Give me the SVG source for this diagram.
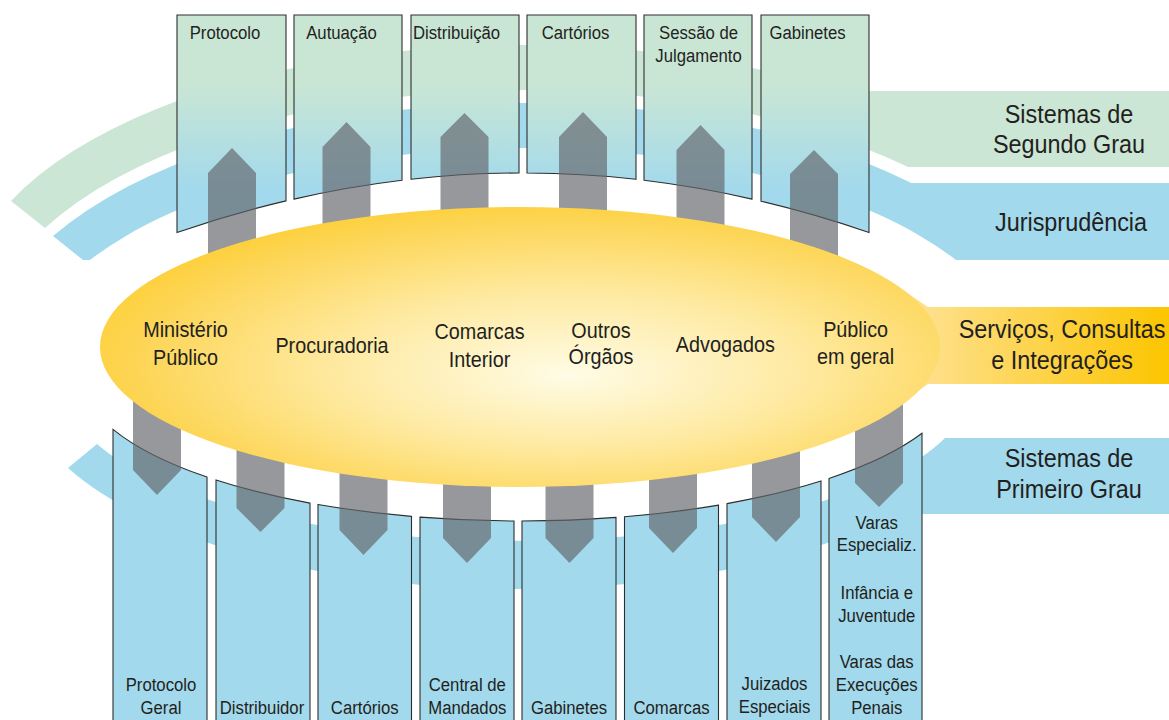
<svg xmlns="http://www.w3.org/2000/svg" width="1169" height="720" viewBox="0 0 1169 720">
<defs>
<style>
.lbl{font-family:"Liberation Sans",Arial,sans-serif;fill:#231f20;text-anchor:middle}
.s19{font-size:19px}
.s22{font-size:22px}
.s26{font-size:26px}
.green{fill:#cbe6d5}
.blue{fill:#a2d9ec}
.tbox{fill:url(#tg);stroke:#2e2e2e;stroke-width:1.1}
.bbox{fill:#a2d9ec;stroke:#2e2e2e;stroke-width:1.1}
.arr{fill:#64666c;fill-opacity:0.67}
</style>
<linearGradient id="tg" gradientUnits="userSpaceOnUse" x1="0" y1="85" x2="0" y2="190">
<stop offset="0" stop-color="#c9e6d5"/>
<stop offset="1" stop-color="#a2d9ec"/>
</linearGradient>
<radialGradient id="eg" cx="0.56" cy="0.56" r="0.6" fx="0.56" fy="0.6">
<stop offset="0" stop-color="#fffce6"/>
<stop offset="0.45" stop-color="#feeaa3"/>
<stop offset="0.85" stop-color="#fdd658"/>
<stop offset="1" stop-color="#fdcf38"/>
</radialGradient>
<linearGradient id="yg" gradientUnits="userSpaceOnUse" x1="900" y1="0" x2="1169" y2="0">
<stop offset="0" stop-color="#fee39a"/>
<stop offset="1" stop-color="#fcc500"/>
</linearGradient>
</defs>

<g id="band-segundo-grau">
<path class="green" d="M11,200.9 A560 262 0 0 1 840,91 L1169,91 L1169,167 L908,167 A540 258 0 0 0 45,228 Z"/>
<text class="lbl s26" transform="translate(1069,123) scale(0.9,1)"><tspan x="0" dy="0">Sistemas de</tspan><tspan x="0" dy="30">Segundo Grau</tspan></text>
</g>
<g id="band-jurisprudencia">
<path class="blue" d="M53,236 A540 262 0 0 1 911.4,183 L1169,183 L1169,260 L956,260 A500 224 0 0 0 90,260 L83,260 Z"/>
<text class="lbl s26" transform="translate(1071,231) scale(0.9,1)">Jurisprudência</text>
</g>
<g id="band-primeiro-grau">
<path class="blue" d="M68,468 L97,444 A450 150 0 0 0 945,438 L1169,438 L1169,514 L898,514 A500 214.6 0 0 1 68,468 Z"/>
<text class="lbl s26" transform="translate(1069,467) scale(0.9,1)"><tspan x="0" dy="0">Sistemas de</tspan><tspan x="0" dy="31.5">Primeiro Grau</tspan></text>
</g>

<g id="top-protocolo">
<path class="tbox" d="M177,15 H286 V200.9 Q231.5,213.7 177,232.5 Z"/>
<text class="lbl s19" transform="translate(225,39) scale(0.88,1)">Protocolo</text>
</g>
<g id="top-autuacao">
<path class="tbox" d="M294,15 H402 V180.3 Q348,186.8 294,199.1 Z"/>
<text class="lbl s19" transform="translate(341.5,39) scale(0.88,1)">Autuação</text>
</g>
<g id="top-distribuicao">
<path class="tbox" d="M411,15 H519 V173 Q465,173.2 411,179.2 Z"/>
<text class="lbl s19" transform="translate(456.5,39) scale(0.88,1)">Distribuição</text>
</g>
<g id="top-cartorios">
<path class="tbox" d="M527,15 H636 V179.3 Q581.5,173.2 527,173 Z"/>
<text class="lbl s19" transform="translate(575.5,39) scale(0.88,1)">Cartórios</text>
</g>
<g id="top-sessao">
<path class="tbox" d="M644,15 H752 V199.1 Q698,186.8 644,180.3 Z"/>
<text class="lbl s19" transform="translate(698.5,39) scale(0.88,1)"><tspan x="0" dy="0">Sessão de</tspan><tspan x="0" dy="23">Julgamento</tspan></text>
</g>
<g id="top-gabinetes">
<path class="tbox" d="M761,15 H869 V232.5 Q815,214 761,201.2 Z"/>
<text class="lbl s19" transform="translate(807.5,39) scale(0.88,1)">Gabinetes</text>
</g>

<g id="bot-protocolo-geral">
<path class="bbox" d="M113,723 V429.4 A440 147.8 0 0 0 207,477.1 V723 Z"/>
<text class="lbl s19" transform="translate(161,691) scale(0.88,1)"><tspan x="0" dy="0">Protocolo</tspan><tspan x="0" dy="23">Geral</tspan></text>
</g>
<g id="bot-distribuidor">
<path class="bbox" d="M216,723 V480 A440 147.8 0 0 0 310,503.1 V723 Z"/>
<text class="lbl s19" transform="translate(262,714) scale(0.88,1)">Distribuidor</text>
</g>
<g id="bot-cartorios">
<path class="bbox" d="M318,723 V504.5 A440 147.8 0 0 0 411.5,516.4 V723 Z"/>
<text class="lbl s19" transform="translate(364.7,714) scale(0.88,1)">Cartórios</text>
</g>
<g id="bot-central-mandados">
<path class="bbox" d="M420,723 V517.1 A440 147.8 0 0 0 514,521 V723 Z"/>
<text class="lbl s19" transform="translate(467.3,691) scale(0.88,1)"><tspan x="0" dy="0">Central de</tspan><tspan x="0" dy="23">Mandados</tspan></text>
</g>
<g id="bot-gabinetes">
<path class="bbox" d="M522,723 V521 A440 147.8 0 0 0 616,517.4 V723 Z"/>
<text class="lbl s19" transform="translate(569,714) scale(0.88,1)">Gabinetes</text>
</g>
<g id="bot-comarcas">
<path class="bbox" d="M624.5,723 V516.8 A440 147.8 0 0 0 718.5,505.1 V723 Z"/>
<text class="lbl s19" transform="translate(671.5,714) scale(0.88,1)">Comarcas</text>
</g>
<g id="bot-juizados">
<path class="bbox" d="M727,723 V503.6 A440 147.8 0 0 0 821,481 V723 Z"/>
<text class="lbl s19" transform="translate(774.5,690) scale(0.88,1)"><tspan x="0" dy="0">Juizados</tspan><tspan x="0" dy="23.5">Especiais</tspan></text>
</g>
<g id="bot-varas">
<path class="bbox" d="M829,723 V478.4 A440 147.8 0 0 0 922,433.3 V723 Z"/>
<text class="lbl s19" transform="translate(876.7,528.5) scale(0.88,1)"><tspan x="0" dy="0">Varas</tspan><tspan x="0" dy="23">Especializ.</tspan><tspan x="0" dy="47.5">Infância e</tspan><tspan x="0" dy="22.7">Juventude</tspan><tspan x="0" dy="46.6">Varas das</tspan><tspan x="0" dy="22.7">Execuções</tspan><tspan x="0" dy="23.3">Penais</tspan></text>
</g>

<g id="connectors">
<polygon class="arr" points="232,148 256,173 256,300 208,300 208,173"/>
<polygon class="arr" points="346.5,122 370.5,147 370.5,300 322.5,300 322.5,147"/>
<polygon class="arr" points="464.5,113 488.5,137 488.5,300 440.5,300 440.5,137"/>
<polygon class="arr" points="583,112 607,137 607,300 559,300 559,137"/>
<polygon class="arr" points="700.5,125 724.5,150 724.5,300 676.5,300 676.5,150"/>
<polygon class="arr" points="814,150 838,174 838,300 790,300 790,174"/>
<polygon class="arr" points="133,380 181,380 181,470 157,495 133,470"/>
<polygon class="arr" points="236.5,380 284.5,380 284.5,508 260.5,532 236.5,508"/>
<polygon class="arr" points="339.5,380 387.5,380 387.5,530 363.5,555 339.5,530"/>
<polygon class="arr" points="443,380 491,380 491,538 467,563 443,538"/>
<polygon class="arr" points="545.5,380 593.5,380 593.5,538 569.5,563 545.5,538"/>
<polygon class="arr" points="649,380 697,380 697,528 673,553 649,528"/>
<polygon class="arr" points="752,380 800,380 800,517 776,542 752,517"/>
<polygon class="arr" points="855,380 903,380 903,483 879,507 855,483"/>
</g>

<g id="servicos">
<polygon fill="url(#yg)" points="870,290 903,290 928,307 1169,307 1169,384 928,384 903,402 870,402"/>
<ellipse cx="520" cy="347" rx="420" ry="140" fill="url(#eg)"/>
<text class="lbl s26" transform="translate(1062,337.5) scale(0.9,1)"><tspan x="0" dy="0">Serviços, Consultas</tspan><tspan x="0" dy="31.5">e Integrações</tspan></text>
</g>
<g id="ministerio-publico">
<text class="lbl s22" transform="translate(185.5,337) scale(0.9,1)"><tspan x="0" dy="0">Ministério</tspan><tspan x="0" dy="28">Público</tspan></text>
</g>
<g id="procuradoria">
<text class="lbl s22" transform="translate(332,353) scale(0.9,1)">Procuradoria</text>
</g>
<g id="comarcas-interior">
<text class="lbl s22" transform="translate(479.5,339) scale(0.9,1)"><tspan x="0" dy="0">Comarcas</tspan><tspan x="0" dy="28">Interior</tspan></text>
</g>
<g id="outros-orgaos">
<text class="lbl s22" transform="translate(601,337.5) scale(0.9,1)"><tspan x="0" dy="0">Outros</tspan><tspan x="0" dy="27">Órgãos</tspan></text>
</g>
<g id="advogados">
<text class="lbl s22" transform="translate(725.3,351.7) scale(0.9,1)">Advogados</text>
</g>
<g id="publico-geral">
<text class="lbl s22" transform="translate(855.6,337) scale(0.9,1)"><tspan x="0" dy="0">Público</tspan><tspan x="0" dy="27">em geral</tspan></text>
</g>
</svg>
